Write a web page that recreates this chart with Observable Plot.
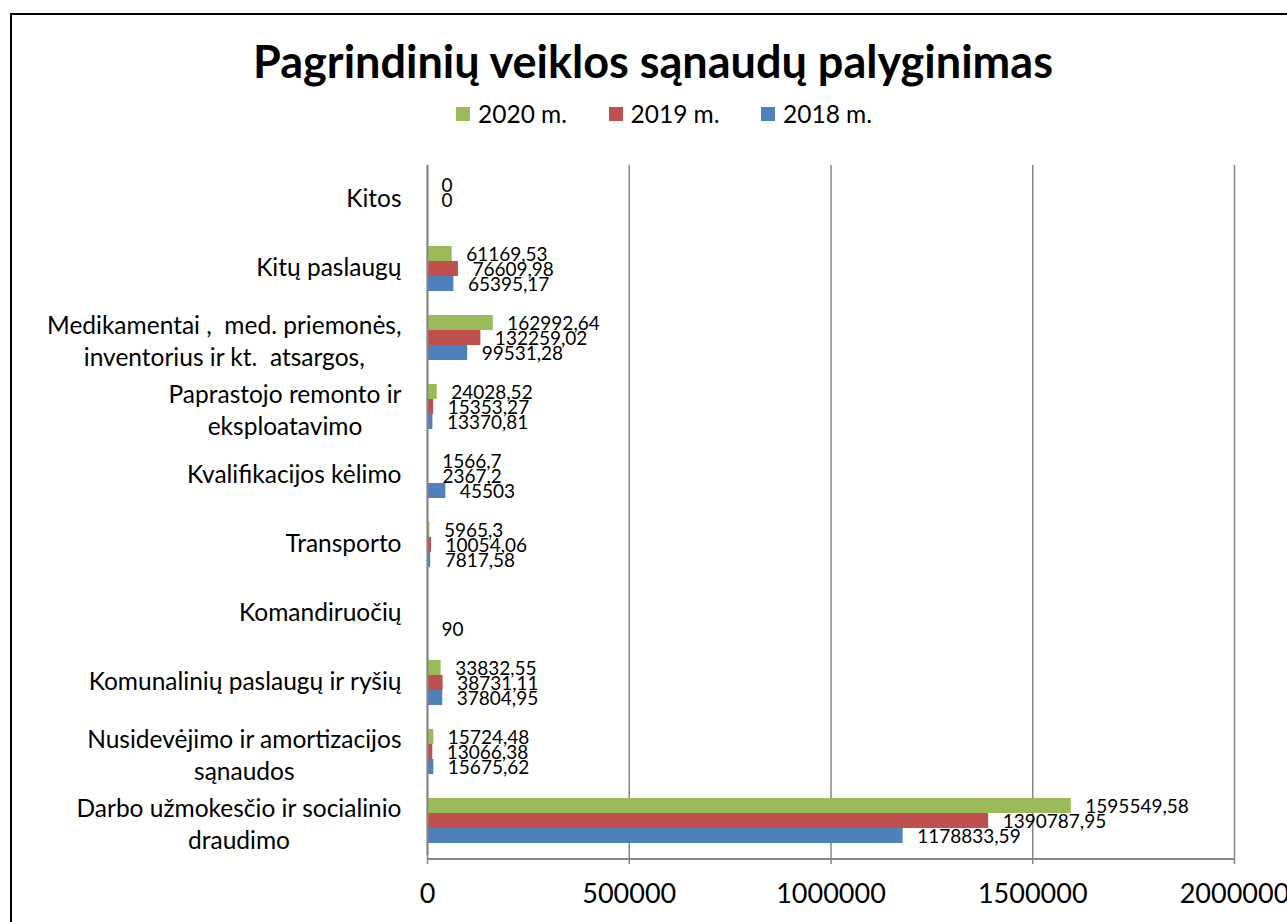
<!DOCTYPE html>
<html>
<head>
<meta charset="utf-8">
<script src="https://cdn.jsdelivr.net/npm/d3@7"></script>
<script src="https://cdn.jsdelivr.net/npm/@observablehq/plot@0.6"></script>
<style>
  body { margin: 0; background: #fff; font-family: Lato, "Open Sans", sans-serif; }
  #page { position: relative; width: 1287px; height: 922px; overflow: hidden; background: #fff; }
  #frame { position: absolute; left: 10px; top: 13px; width: 1400px; height: 1000px; border: 2px solid #000; box-sizing: border-box; }
  #title { position: absolute; left: 0; top: 34px; width: 1306px; text-align: center; font-weight: bold; font-size: 45px; line-height: 54px; color: #000; }
  #legend { position: absolute; left: 456px; top: 101px; display: flex; font-size: 24.5px; line-height: 26px; color: #000; }
  .item { display: flex; align-items: center; width: 152.5px; }
  .sw { width: 14px; height: 14px; margin-right: 8px; }
  #chart { position: absolute; left: 0; top: 130px; }
  #chart svg text { white-space: pre; }
  #chart svg { overflow: visible; }
</style>
</head>
<body>
<div id="page">
  <div id="frame"></div>
  <div id="title"></div>
  <div id="legend"></div>
  <div id="chart"></div>
</div>
<script>
const titleText = "Pagrindinių veiklos sąnaudų palyginimas";
const categories = [
  "Kitos",
  "Kitų paslaugų",
  "Medikamentai ,  med. priemonės,\ninventorius ir kt.  atsargos,",
  "Paprastojo remonto ir\neksploatavimo",
  "Kvalifikacijos kėlimo",
  "Transporto",
  "Komandiruočių",
  "Komunalinių paslaugų ir ryšių",
  "Nusidevėjimo ir amortizacijos\nsąnaudos",
  "Darbo užmokesčio ir socialinio\ndraudimo"
];
const series = ["2020 m.", "2019 m.", "2018 m."];
const colors = ["#9BBB59", "#C0504D", "#4F81BD"];
const values2020 = [0, 61169.53, 162992.64, 24028.52, 1566.7, 5965.3, null, 33832.55, 15724.48, 1595549.58];
const values2019 = [0, 76609.98, 132259.02, 15353.27, 2367.2, 10054.06, null, 38731.11, 13066.38, 1390787.95];
const values2018 = [null, 65395.17, 99531.28, 13370.81, 45503, 7817.58, 90, 37804.95, 15675.62, 1178833.59];
const xTicks = [0, 500000, 1000000, 1500000, 2000000];

document.getElementById("title").textContent = titleText;
const legend = document.getElementById("legend");
series.forEach((s, i) => {
  const it = document.createElement("div");
  it.className = "item";
  const sw = document.createElement("div");
  sw.className = "sw";
  sw.style.background = colors[i];
  const t = document.createElement("span");
  t.textContent = s;
  it.appendChild(sw); it.appendChild(t);
  legend.appendChild(it);
});

const valueSets = [values2020, values2019, values2018];
const data = [];
categories.forEach((c, ci) => {
  series.forEach((s, si) => {
    const v = valueSets[si][ci];
    if (v !== null) data.push({category: c, series: s, value: v});
  });
});
const fmt = v => String(v).replace(".", ",");

const W = 1287, H = 792, ML = 427, MR = 53, MT = 30, MB = 63;
const plot = Plot.plot({
  width: W,
  height: H,
  marginLeft: ML,
  marginRight: MR,
  marginTop: MT,
  marginBottom: MB,
  style: {fontFamily: "Lato, 'Open Sans', sans-serif", color: "#000", background: "transparent"},
  x: {domain: [0, 2000000]},
  y: {domain: series, paddingInner: 0, paddingOuter: 0.7, axis: null},
  fy: {domain: categories, padding: 0},
  color: {domain: series, range: colors},
  marks: [
    Plot.gridX(xTicks, {stroke: "#868686", strokeOpacity: 1, strokeWidth: 1.5}),
    Plot.barX(data, {x: "value", y: "series", fy: "category", fill: "series"}),
    Plot.text(data, {x: "value", y: "series", fy: "category", text: d => fmt(d.value), textAnchor: "start", dx: 14, dy: 1, fontSize: 19, fill: "#000"}),
    Plot.axisFy({anchor: "left", tickSize: 0, tickPadding: 26, fontSize: 24.5, lineHeight: 1.28, dy: -3, label: null, textAnchor: "end"}),
    Plot.axisX(xTicks, {anchor: "bottom", tickSize: 9, tickPadding: 19, fontSize: 27, stroke: "#868686", strokeWidth: 1.5, tickFormat: d => String(d), label: null, facetAnchor: "bottom"}),
    Plot.ruleX([0], {stroke: "#868686", strokeWidth: 2})
  ]
});
document.getElementById("chart").appendChild(plot);

// horizontal value-axis line along the bottom of the plot area
const svgRoot = plot.tagName.toLowerCase() === "svg" ? plot : plot.querySelector("svg");
const ns = "http://www.w3.org/2000/svg";
const axisLine = document.createElementNS(ns, "line");
axisLine.setAttribute("x1", ML);
axisLine.setAttribute("x2", W - MR);
axisLine.setAttribute("y1", H - MB);
axisLine.setAttribute("y2", H - MB);
axisLine.setAttribute("stroke", "#868686");
axisLine.setAttribute("stroke-width", 2);
svgRoot.appendChild(axisLine);

// center each line of multi-line category labels within their block (as in the original)
plot.querySelectorAll("g[aria-label='fy-axis tick label'] text").forEach(t => {
  const spans = t.querySelectorAll("tspan");
  if (spans.length > 1) {
    let w = 0;
    spans.forEach(s => { w = Math.max(w, s.getComputedTextLength()); });
    t.setAttribute("text-anchor", "middle");
    spans.forEach(s => s.setAttribute("x", -w / 2));
    const tr = t.getAttribute("transform") || "";
    t.setAttribute("transform", (tr + " translate(0,5)").trim());
  }
});
</script>
</body>
</html>
